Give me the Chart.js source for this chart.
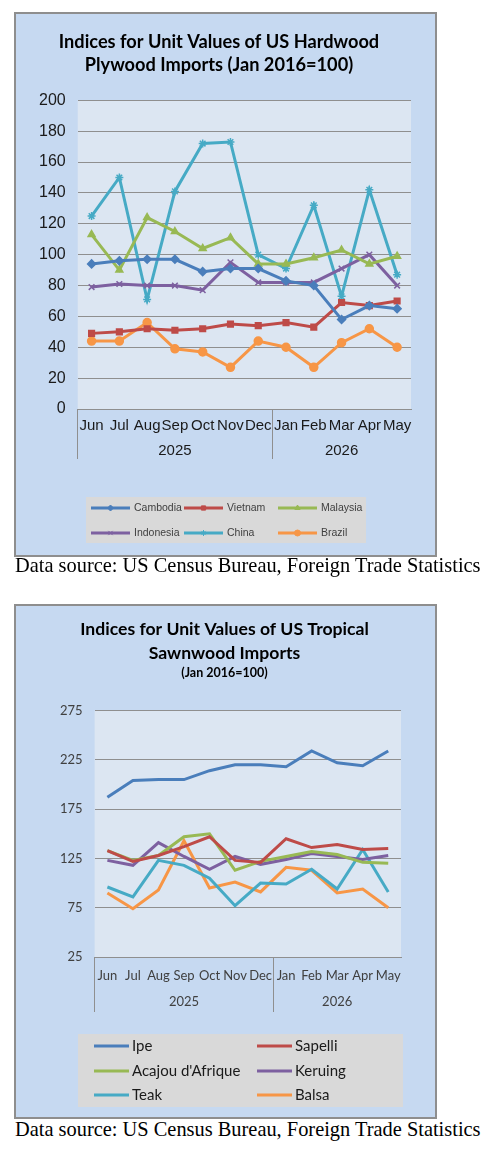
<!DOCTYPE html>
<html>
<head>
<meta charset="utf-8">
<script src="https://cdn.jsdelivr.net/npm/chart.js@4/dist/chart.umd.min.js"></script>
<style>
  body { margin: 0; background: #fff; width: 496px; height: 1151px; position: relative; overflow: hidden; }
  .panel { position: absolute; left: 14px; width: 419px; border: 2px solid #8e8e8e; background: #c6d9f1; }
  .panel canvas { display: block; }
  .src { position: absolute; left: 15px; font-family: "Liberation Serif", "Times New Roman", serif; font-size: 20.4px; color: #000; white-space: nowrap; }
</style>
</head>
<body>
<div class="panel" style="top:12px;height:541px"><canvas id="plywood" width="419" height="541"></canvas></div>
<div class="src" style="top:554px">Data source: US Census Bureau, Foreign Trade Statistics</div>
<div class="panel" style="top:604px;height:511px"><canvas id="sawnwood" width="419" height="511"></canvas></div>
<div class="src" style="top:1118px">Data source: US Census Bureau, Foreign Trade Statistics</div>

<script>
// categories
const months = ["Jun", "Jul", "Aug", "Sep", "Oct", "Nov", "Dec", "Jan", "Feb", "Mar", "Apr", "May"];
const years = ["2025", "2026"];
const monthsInYear = [7, 5];

// plywood indices
const cambodia = [94, 96, 97, 97, 89, 91, 91, 83, 80, 58, 67, 65];
const vietnam = [49, 50, 52, 51, 52, 55, 54, 56, 53, 69, 67, 70];
const malaysia = [113, 90, 124, 115, 104, 111, 94, 94, 98, 103, 94, 99];
const indonesia = [79, 81, 80, 80, 77, 95, 82, 82, 82, 91, 100, 80];
const china = [125, 150, 71, 141, 172, 173, 100, 91, 132, 73, 142, 87];
const brazil = [44, 44, 56, 39, 37, 27, 44, 40, 27, 43, 52, 40];

// sawnwood indices
const ipe = [187, 204, 205, 205, 214, 220, 220, 218, 234, 222, 219, 234];
const sapelli = [133, 122, 128, 137, 147, 123, 121, 145, 136, 139, 134, 135];
const acajou = [133, 123, 128, 147, 150, 113, 122, 127, 132, 129, 121, 120];
const keruing = [123, 118, 141, 127, 114, 127, 119, 124, 130, 127, 124, 128];
const teak = [96, 86, 123, 118, 105, 77, 100, 99, 114, 94, 134, 91];
const balsa = [90, 74, 93, 143, 95, 101, 91, 116, 113, 90, 94, 75];

const blue = "#4a7ebb", red = "#be4b48", green = "#98b954",
      purple = "#7d60a0", cyan = "#46aac5", orange = "#f79646";

// month label + year under the middle month of each group
const labels = [];
const boundaries = [0];
let start = 0;
years.forEach((y, g) => {
  const mid = start + Math.floor(monthsInYear[g] / 2);
  for (let i = 0; i < monthsInYear[g]; i++) {
    const idx = start + i;
    labels.push([months[idx], idx === mid ? y : ""]);
  }
  start += monthsInYear[g];
  boundaries.push(start);
});

// plot area fill
const plotBg = {
  id: "plotBg",
  beforeDraw(chart, args, opts) {
    const { ctx, chartArea: a } = chart;
    ctx.save();
    ctx.fillStyle = opts.color;
    ctx.fillRect(a.left, a.top, a.width, a.height);
    ctx.restore();
  }
};

// grey legend box with fixed columns
const boxLegend = {
  id: "boxLegend",
  afterDraw(chart, args, o) {
    const ctx = chart.ctx;
    ctx.save();
    ctx.fillStyle = o.bg;
    ctx.fillRect(o.x, o.y, o.w, o.h);
    ctx.font = o.font;
    ctx.textBaseline = "middle";
    chart.data.datasets.forEach((ds, i) => {
      const x = o.colX[i % o.cols];
      const y = o.rowY[Math.floor(i / o.cols)];
      ctx.strokeStyle = ds.borderColor;
      ctx.fillStyle = ds.borderColor;
      ctx.lineWidth = o.lineWidth;
      ctx.beginPath();
      ctx.moveTo(x, y);
      ctx.lineTo(x + o.lineLen, y);
      ctx.stroke();
      if (o.marker && ds.pointStyle) {
        ctx.lineWidth = 1;
        Chart.helpers.drawPoint(ctx, { pointStyle: ds.pointStyle, radius: o.marker, borderWidth: 1, rotation: 0 }, x + o.lineLen / 2, y);
      }
      ctx.fillStyle = o.textColor;
      ctx.fillText(ds.label, x + o.lineLen + o.gap, y);
    });
    ctx.restore();
  }
};

function gridColor(c) {
  return boundaries.includes(c.index) ? "#8f8f8f" : "rgba(0,0,0,0)";
}

function line(label, data, color, style) {
  return {
    label: label, data: data, borderColor: color, backgroundColor: color,
    borderWidth: 3, tension: 0,
    pointStyle: style || false, pointRadius: style ? 4 : 0,
    pointBorderWidth: 1.5, pointBackgroundColor: color, pointBorderColor: color
  };
}

new Chart(document.getElementById("plywood"), {
  type: "line",
  data: {
    labels: labels,
    datasets: [
      line("Cambodia", cambodia, blue, "rectRot"),
      line("Vietnam", vietnam, red, "rect"),
      line("Malaysia", malaysia, green, "triangle"),
      line("Indonesia", indonesia, purple, "crossRot"),
      line("China", china, cyan, "star"),
      line("Brazil", brazil, orange, "circle")
    ]
  },
  options: {
    responsive: false,
    animation: false,
    layout: { padding: { left: 11, right: 24, top: 0, bottom: 92 } },
    plugins: {
      legend: { display: false },
      tooltip: { enabled: false },
      title: {
        display: true,
        text: ["Indices for Unit Values of US Hardwood", "Plywood Imports (Jan 2016=100)"],
        color: "#000",
        font: { family: "Lato", size: 18.2, weight: "bold", lineHeight: 1.3 },
        padding: { top: 16, bottom: 23 }
      },
      plotBg: { color: "#dce6f2" },
      boxLegend: {
        x: 70, y: 483, w: 280, h: 46, bg: "#d9d9d9",
        cols: 3, colX: [75, 168, 262], rowY: [494, 519],
        lineLen: 39, gap: 4, lineWidth: 3, marker: 3,
        font: "10.5px 'Liberation Sans', Arial, sans-serif", textColor: "#404040"
      }
    },
    scales: {
      x: {
        offset: true,
        afterFit: function (s) { s.height = 54; },
        border: { display: true, color: "#8f8f8f" },
        grid: { offset: true, drawOnChartArea: false, drawTicks: true, tickLength: 50, color: gridColor },
        ticks: {
          autoSkip: false, maxRotation: 0, padding: -46, color: "#1a1a1a",
          font: { family: "'Liberation Sans', Arial, sans-serif", size: 15, lineHeight: 1.67 }
        }
      },
      y: {
        min: 0, max: 200,
        border: { display: false },
        grid: { color: "#8f8f8f", drawTicks: false },
        ticks: {
          stepSize: 20, padding: 12, color: "#1a1a1a",
          font: { family: "'Liberation Sans', Arial, sans-serif", size: 16 }
        }
      }
    }
  },
  plugins: [plotBg, boxLegend]
});

new Chart(document.getElementById("sawnwood"), {
  type: "line",
  data: {
    labels: labels,
    datasets: [
      line("Ipe", ipe, blue),
      line("Sapelli", sapelli, red),
      line("Acajou d'Afrique", acajou, green),
      line("Keruing", keruing, purple),
      line("Teak", teak, cyan),
      line("Balsa", balsa, orange)
    ]
  },
  options: {
    responsive: false,
    animation: false,
    layout: { padding: { left: 32, right: 34, top: 0, bottom: 102 } },
    plugins: {
      legend: { display: false },
      tooltip: { enabled: false },
      title: {
        display: true,
        text: ["Indices for Unit Values of US Tropical", "Sawnwood Imports"],
        color: "#000",
        font: { family: "Lato", size: 17.6, weight: "bold", lineHeight: 1.38 },
        padding: { top: 11, bottom: 0 }
      },
      subtitle: {
        display: true,
        text: "(Jan 2016=100)",
        color: "#000",
        font: { family: "Lato", size: 12.5, weight: "bold", lineHeight: 1.2 },
        padding: { top: 0, bottom: 30 }
      },
      plotBg: { color: "#dce6f2" },
      boxLegend: {
        x: 62, y: 428, w: 325, h: 73, bg: "#d9d9d9",
        cols: 2, colX: [78, 241], rowY: [440, 465, 489],
        lineLen: 35, gap: 3, lineWidth: 3, marker: 0,
        font: "15px Lato, sans-serif", textColor: "#1a1a1a"
      }
    },
    scales: {
      x: {
        offset: true,
        afterFit: function (s) { s.height = 58; },
        border: { display: true, color: "#8f8f8f" },
        grid: { offset: true, drawOnChartArea: false, drawTicks: true, tickLength: 55, color: gridColor },
        ticks: {
          autoSkip: false, maxRotation: 0, padding: -49, color: "#404040",
          font: { family: "Lato", size: 13, lineHeight: 2 }
        }
      },
      y: {
        min: 25, max: 275,
        border: { display: false },
        grid: { color: "#8f8f8f", drawTicks: false },
        ticks: {
          stepSize: 50, padding: 12, color: "#404040",
          font: { family: "Lato", size: 13 }
        }
      }
    }
  },
  plugins: [plotBg, boxLegend]
});
</script>
</body>
</html>
